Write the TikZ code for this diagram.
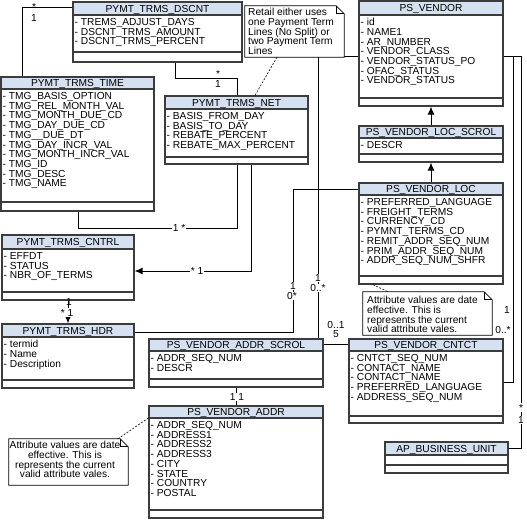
\documentclass[tikz,border=0pt]{standalone}
\usepackage{fontspec}
\setmainfont{Liberation Sans}
\usetikzlibrary{arrows.meta,fit}
\definecolor{hdrblue}{RGB}{213,225,240}
\definecolor{boxgray}{RGB}{60,60,60}
%% class box: name, left, top, right, header bottom, separator, bottom, title, attributes
\newcommand{\umlclass}[9]{%
  \fill[hdrblue] (#2,#3) rectangle (#4,#5);
  \node[classbox,fit={(#2,#3) (#4,#7)}] (#1) {};
  \draw[classline] (#2,#5) -- (#4,#5) (#2,#6) -- (#4,#6);
  \node[classtitle] (#1-title) at ({(#2+#4)/2},{(#3+#5)/2}) {#8};
  \node[classattr] (#1-attr) at (#2+1.5,#5+3.2) {#9};
}
\begin{document}
\begin{tikzpicture}[x=1pt,y=-1pt,
    txt/.style={font={\fontsize{10.2}{9.7}\selectfont\lineskiplimit=-10pt}},
    classline/.style={draw=boxgray,line width=1.2pt},
    classbox/.style={classline,inner sep=0pt},
    classtitle/.style={txt,inner sep=0pt,text height=7.3pt,text depth=0pt},
    classattr/.style={txt,inner sep=0pt,anchor=north west,align=left},
    conn/.style={draw=black,line width=1pt},
    arr/.style={conn,-{Latex[length=8pt,width=7pt]}},
    link/.style={draw=black,line width=0.6pt,dashed,dash pattern=on 2pt off 1.5pt},
    mult/.style={txt,inner sep=0.6pt,anchor=base},
    multw/.style={mult,fill=white},
    notebox/.style={inner sep=0pt},
    notetext/.style={txt,inner sep=0pt,align=left,anchor=north west}]
    \useasboundingbox (0,0) rectangle (527,519);
    %% Classes
    \umlclass{dscnt}{73}{2}{242}{15}{52}{62}{PYMT\_TRMS\_DSCNT}{%
      - TREMS\_ADJUST\_DAYS\\- DSCNT\_TRMS\_AMOUNT\\- DSCNT\_TRMS\_PERCENT}
    \umlclass{time}{1}{77}{154}{89}{202}{211}{PYMT\_TRMS\_TIME}{%
      - TMG\_BASIS\_OPTION\\- TMG\_REL\_MONTH\_VAL\\- TMG\_MONTH\_DUE\_CD\\%
      - TMG\_DAY\_DUE\_CD\\- TMG\_\_DUE\_DT\\- TMG\_DAY\_INCR\_VAL\\%
      - TMG\_MONTH\_INCR\_VAL\\- TMG\_ID\\- TMG\_DESC\\- TMG\_NAME}
    \umlclass{net}{165}{96}{308}{109}{157}{164}{PYMT\_TRMS\_NET}{%
      - BASIS\_FROM\_DAY\\- BASIS\_TO\_DAY\\- REBATE\_PERCENT\\- REBATE\_MAX\_PERCENT}
    \umlclass{cntrl}{2}{235}{134}{249}{292}{300}{PYMT\_TRMS\_CNTRL}{%
      - EFFDT\\- STATUS\\- NBR\_OF\_TERMS}
    \umlclass{hdr}{2}{324}{134}{337}{380}{388}{PYMT\_TRMS\_HDR}{%
      - termid\\- Name\\- Description}
    \umlclass{addrscrol}{149}{339}{323}{351}{379}{387}{PS\_VENDOR\_ADDR\_SCROL}{%
      - ADDR\_SEQ\_NUM\\- DESCR}
    \umlclass{addr}{149}{406}{323}{418}{510}{518}{PS\_VENDOR\_ADDR}{%
      - ADDR\_SEQ\_NUM\\- ADDRESS1\\- ADDRESS2\\- ADDRESS3\\- CITY\\- STATE\\%
      - COUNTRY\\- POSTAL}
    \umlclass{vendor}{359}{1}{503}{15}{98}{106}{PS\_VENDOR}{%
      - id\\- NAME1\\- AR\_NUMBER\\- VENDOR\_CLASS\\- VENDOR\_STATUS\_PO\\%
      - OFAC\_STATUS\\- VENDOR\_STATUS}
    \umlclass{locscrol}{359}{126}{503}{138}{154}{162}{PS\_VENDOR\_LOC\_SCROL}{%
      - DESCR}
    \umlclass{loc}{359}{183}{503}{195}{276}{284}{PS\_VENDOR\_LOC}{%
      - PREFERRED\_LANGUAGE\\- FREIGHT\_TERMS\\- CURRENCY\_CD\\%
      - PYMNT\_TERMS\_CD\\- REMIT\_ADDR\_SEQ\_NUM\\- PRIM\_ADDR\_SEQ\_NUM\\%
      - ADDR\_SEQ\_NUM\_SHFR}
    \umlclass{cntct}{349}{339}{503}{351}{416}{423}{PS\_VENDOR\_CNTCT}{%
      - CNTCT\_SEQ\_NUM\\- CONTACT\_NAME\\- CONTACT\_NAME\\%
      - PREFERRED\_LANGUAGE\\- ADDRESS\_SEQ\_NUM}
    \umlclass{bu}{385}{442}{508}{455}{465}{473}{AP\_BUSINESS\_UNIT}{}
    %% Connectors
    \draw[conn] (dscnt.west |- 0,8) -| (22,0 |- time.north);
    \draw[conn] (dscnt.south -| 175,0) -- (175,78) -| (net.north -| 237,0);
    \draw[conn] (time.south -| 78,0) -- (78,228) -| (net.south -| 237,0);
    \draw[arr] (net.south -| 251,0) |- (cntrl.east |- 0,271);
    \draw[arr] (cntrl.south) -- (hdr.north);
    \draw[conn] (hdr.east |- 0,332) -| (293,189) -- (loc.west |- 0,189);
    \draw[conn] (addrscrol.north -| 318,0) -- (318,57) -- (vendor.west |- 0,57);
    \draw[conn] (addrscrol.east |- 0,344) -- (cntct.west |- 0,344);
    \draw[conn] (addrscrol.south) -- (addr.north);
    \draw[conn] (vendor.east |- 0,57) -| (513,382) -- (cntct.east |- 0,382);
    \draw[conn] (vendor.east |- 0,57) -| (521,448) -- (bu.east |- 0,448);
    \draw[arr] (locscrol.north) -- (vendor.south);
    \draw[arr] (loc.north) -- (locscrol.south);
    %% Notes
    \node[notebox,fit={(245,6) (344,57)}] (noteSplit) {};
    \node[notebox,fit={(363,292) (492,335)}] (noteLoc) {};
    \node[notebox,fit={(9,439) (128,485)}] (noteAddr) {};
    \foreach \n in {noteSplit,noteLoc,noteAddr}{
      \draw[fill=white,line width=0.8pt] (\n.north west) -- ([xshift=-8pt]\n.north east)
        -- ([yshift=-8pt]\n.north east) -- (\n.south east) -- (\n.south west) -- cycle;
      \draw[line width=0.8pt] ([xshift=-8pt]\n.north east) -- ([xshift=-8pt,yshift=-8pt]\n.north east)
        -- ([yshift=-8pt]\n.north east);
    }
    \node[notetext] (noteSplit-text) at (248,8.3) {Retail either uses\\one Payment Term\\%
      Lines (No Split) or\\two Payment Term\\Lines};
    \node[notetext] (noteLoc-text) at (367,296.3) {Attribute values are date\\%
      effective. This is\\represents the current\\valid attribute vales.};
    \node[notetext,align=center,anchor=north] (noteAddr-text) at (65,441.3) {Attribute values are date\\%
      effective. This is\\represents the current\\valid attribute vales.};
    \draw[link] (noteSplit.south -| 277,0) -- (255,0 |- net.north);
    \draw[link] (loc.south -| 373,0) -- (noteLoc.north -| 388,0);
    \draw[link] (noteAddr.north -| 118,0) -- (addr.west |- 0,418);
    %% Multiplicities
    \node[mult] (m1a) at (34,10.8) {*};
    \node[mult] (m1b) at (34,21.6) {1};
    \node[mult] (m2a) at (218,77.3) {*};
    \node[mult] (m2b) at (218,87.6) {1};
    \node[multw] (m3) at (179,231.4) {1 *};
    \node[multw] (m4) at (197,274.4) {* 1};
    \node[mult] (m5a) at (69,305.8) {1};
    \node[multw] (m5b) at (67,316) {* 1};
    \node[multw] (m6a) at (293,289.6) {1};
    \node[multw] (m6b) at (292,299.6) {0*};
    \node[multw] (m7a) at (318,281.6) {1};
    \node[multw] (m7b) at (318,291.6) {0..*};
    \node[mult] (m8a) at (336,328.6) {0..1};
    \node[mult] (m8b) at (336,337.6) {5};
    \node[multw] (m9) at (237,400.6) {1 1};
    \node[mult] (m10a) at (507,313.6) {1};
    \node[mult] (m10b) at (503,333.6) {0..*};
    \node[multw] (m11a) at (521,411) {*};
    \node[multw] (m11b) at (521,423.6) {1};
\end{tikzpicture}
\end{document}
